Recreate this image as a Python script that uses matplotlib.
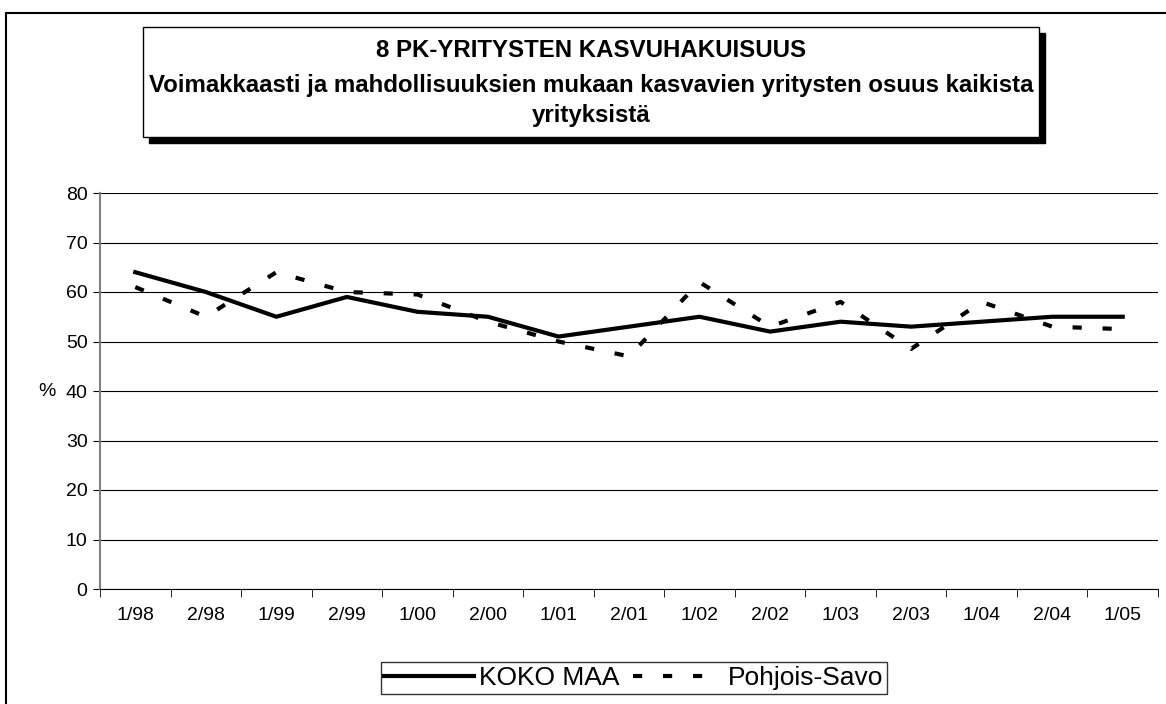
import matplotlib.pyplot as plt
from matplotlib.patches import Rectangle

plt.rcParams['font.family'] = ['Liberation Sans', 'DejaVu Sans']

# data
periods = ['1/98', '2/98', '1/99', '2/99', '1/00', '2/00', '1/01', '2/01',
           '1/02', '2/02', '1/03', '2/03', '1/04', '2/04', '1/05']
koko_maa = [64, 60, 55, 59, 56, 55, 51, 53, 55, 52, 54, 53, 54, 55, 55]
pohjois_savo = [61, 55, 64, 60, 59.5, 54, 50, 47, 62, 53, 58, 48.5, 58, 53, 52.5]
y_ticks = [0, 10, 20, 30, 40, 50, 60, 70, 80]

W, H = 1166, 704
fig = plt.figure(figsize=(W / 100, H / 100), dpi=100)

# outer frame (cut off on right and bottom)
fig.patches.append(Rectangle((6 / W, -0.1), 1.2, 1 - 13 / H + 0.1,
                             transform=fig.transFigure, fill=False,
                             edgecolor='black', lw=1.5, zorder=0))

# title box with shadow
bx0, bx1, by0, by1 = 143 / W, 1039 / W, 1 - 137 / H, 1 - 27 / H
fig.patches.append(Rectangle((bx0 + 6 / W, by0 - 6 / H), bx1 - bx0, by1 - by0,
                             transform=fig.transFigure, facecolor='black',
                             edgecolor='black', zorder=1))
fig.patches.append(Rectangle((bx0, by0), bx1 - bx0, by1 - by0,
                             transform=fig.transFigure, facecolor='white',
                             edgecolor='black', lw=1, zorder=2))
tx = 0.5 * (bx0 + bx1)
fig.text(tx, 1 - 57 / H, '8 PK-YRITYSTEN KASVUHAKUISUUS',
         ha='center', va='baseline', fontsize=17.3, fontweight='bold', zorder=3)
fig.text(tx, 1 - 92 / H,
         'Voimakkaasti ja mahdollisuuksien mukaan kasvavien yritysten osuus kaikista',
         ha='center', va='baseline', fontsize=17.3, fontweight='bold', zorder=3)
fig.text(tx, 1 - 122 / H, 'yrityksistä',
         ha='center', va='baseline', fontsize=17.3, fontweight='bold', zorder=3)

ax = fig.add_axes([100 / W, 1 - 589 / H, 1058 / W, 396 / H])
x = list(range(len(periods)))
ax.plot(x, koko_maa, color='black', lw=3, label='KOKO MAA', zorder=3)
ax.plot(x, pohjois_savo, color='black', lw=3, dashes=(2.2, 5),
        label='Pohjois-Savo', zorder=3)

ax.set_xlim(-0.5, len(periods) - 0.5)
ax.set_ylim(0, 80)
ax.set_yticks(y_ticks)
ax.tick_params(axis='y', labelsize=14, length=5, color='black', pad=4)
ax.set_xticks(x)
ax.set_xticklabels(periods, fontsize=14)
ax.tick_params(axis='x', which='major', length=0, pad=13)
ax.set_xticks([i - 0.5 for i in range(len(periods) + 1)], minor=True)
ax.tick_params(axis='x', which='minor', length=6, color='black')
ax.grid(axis='y', color='black', lw=0.8)
ax.set_axisbelow(True)
for s in ['top', 'right']:
    ax.spines[s].set_visible(False)
ax.spines['left'].set_color('gray')
ax.spines['left'].set_linewidth(1.5)
ax.spines['bottom'].set_color('black')
ax.set_ylabel('%', fontsize=14, rotation=0, labelpad=7, va='center', ha='right')

leg = fig.legend(loc='center', bbox_to_anchor=(634 / W, 1 - 678 / H), ncol=2,
                 fontsize=19, handlelength=3.4, handletextpad=0.2,
                 columnspacing=0.5, frameon=True, fancybox=False,
                 borderpad=0.15, borderaxespad=0)
leg.get_frame().set_edgecolor('black')
leg.get_frame().set_linewidth(1)

fig.savefig('out.png', dpi=100)
